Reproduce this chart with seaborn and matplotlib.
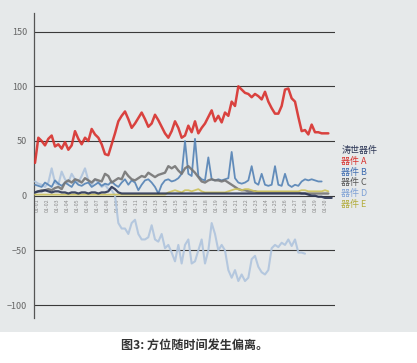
import seaborn as sns
import matplotlib.pyplot as plt
import pandas as pd
import numpy as np

nan = np.nan

# values (one point every ~3 px)
dev_a = [30, 53, 50, 46, 52, 55, 45, 47, 43, 49, 42, 46, 59, 52, 47, 53, 50, 61, 56, 53,
         47, 38, 37, 47, 57, 68, 73, 77, 70, 62, 66, 71, 76, 70, 63, 66, 74, 69, 63, 57,
         53, 59, 68, 62, 53, 55, 64, 58, 68, 57, 62, 66, 72, 78, 68, 73, 67, 76, 73, 86,
         82, 100, 97, 94, 93, 90, 93, 91, 88, 95, 86, 80, 75, 75, 82, 97, 98, 89, 86, 72,
         59, 60, 56, 65, 58, 58, 57, 57, 57, nan]
dev_b = [10, 9, 8, 12, 10, 8, 14, 11, 9, 12, 10, 8, 13, 10, 9, 11, 12, 8, 10, 12,
         9, 11, 10, 13, 10, 8, 12, 15, 10, 14, 12, 5, 10, 14, 15, 12, 8, 2, 10, 14,
         15, 13, 14, 16, 20, 50, 20, 18, 52, 18, 15, 14, 35, 15, 14, 15, 14, 15, 16, 40,
         16, 12, 11, 12, 14, 27, 12, 10, 20, 10, 9, 10, 27, 10, 9, 20, 10, 8, 10, 9,
         13, 15, 14, 15, 14, 13, 13, nan, nan, nan]
dev_c = [3, 4, 5, 5, 6, 5, 7, 8, 6, 12, 14, 12, 15, 14, 12, 16, 14, 12, 15, 14,
         13, 20, 18, 12, 14, 16, 15, 22, 18, 15, 14, 16, 18, 17, 21, 19, 17, 19, 20, 21,
         27, 25, 27, 23, 20, 25, 27, 24, 21, 17, 13, 12, 14, 15, 14, 14, 13, 14, 12, 10,
         8, 6, 5, 5, 4, 4, 4, 3, 3, 3, 3, 3, 3, 3, 3, 3, 3, 3, 3, 3,
         2, 2, 2, 2, 2, 2, 2, 2, 2, nan]
dev_d = [13, 11, 10, 8, 12, 25, 12, 10, 22, 15, 12, 20, 15, 12, 18, 25, 14, 10, 15, 12,
         8, 10, 6, 5, 0, -25, -30, -30, -35, -25, -22, -35, -40, -40, -38, -27, -40, -42, -35, -48,
         -45, -52, -60, -45, -62, -45, -40, -62, -60, -50, -40, -62, -50, -25, -35, -50, -45, -50, -68, -75,
         -68, -78, -72, -78, -75, -58, -55, -65, -70, -72, -68, -48, -45, -47, -43, -45, -40, -46, -40, -52,
         -52, -53, nan, nan, nan, nan, nan, nan, nan, nan]
dev_e = [1, 1, 1, 1, 1, 1, 1, 1, 1, 1, 1, 1, 1, 1, 1, 1, 1, 1, 1, 1,
         1, 1, 1, 1, 1, 1, 1, 1, 1, 1, 1, 1, 1, 1, 1, 1, 1, 1, 1, 1,
         3, 4, 5, 4, 3, 5, 5, 4, 5, 6, 4, 3, 3, 3, 3, 3, 3, 3, 4, 5,
         6, 6, 5, 6, 6, 5, 4, 4, 4, 4, 4, 4, 4, 4, 4, 4, 4, 4, 4, 4,
         5, 5, 4, 4, 4, 4, 4, 5, 4, nan]
dev_ts = [3, 4, 4, 5, 4, 3, 4, 4, 3, 3, 2, 3, 3, 2, 3, 3, 2, 3, 3, 2,
          3, 3, 4, 8, 6, 3, 2, 2, 2, 2, 2, 2, 2, 2, 2, 2, 2, 2, 2, 2,
          2, 2, 2, 2, 2, 2, 2, 2, 2, 2, 2, 2, 2, 2, 2, 2, 2, 2, 2, 2,
          2, 2, 2, 2, 2, 2, 2, 2, 2, 2, 2, 2, 2, 2, 2, 2, 2, 2, 2, 2,
          2, 2, 1, 0, 0, -1, -1, -2, -2, -2]

names = ["涛世器件", "器件 A", "器件 B", "器件 C", "器件 D", "器件 E"]
tick_labels = ["01-%02d" % d for d in range(1, 31)]

colors = {"涛世器件": "#2b3555", "器件 A": "#d8302c", "器件 B": "#5482b5",
          "器件 C": "#757575", "器件 D": "#afc4dd", "器件 E": "#cdc25a"}
text_colors = {"涛世器件": "#2b3555", "器件 A": "#d8302c", "器件 B": "#3f6db0",
               "器件 C": "#555555", "器件 D": "#7fa2d6", "器件 E": "#b3ac3c"}
widths = {"涛世器件": 1.6, "器件 A": 1.8, "器件 B": 1.3, "器件 C": 1.7,
          "器件 D": 1.5, "器件 E": 1.3}

idx = np.arange(len(dev_a))
df = pd.DataFrame({"t": idx, "器件 A": dev_a, "器件 B": dev_b, "器件 C": dev_c,
                   "器件 D": dev_d, "器件 E": dev_e, "涛世器件": dev_ts})

sns.set_style("white")
plt.rcParams['font.family'] = ['Noto Sans CJK SC', 'DejaVu Sans']

fig = plt.figure(figsize=(4.17, 3.63), dpi=100)
fig.patch.set_facecolor("white")

# grey panel behind the chart, white strip for the caption
bg = fig.add_axes([0, 1 - 332 / 363, 1, 332 / 363], zorder=-5)
bg.set_facecolor("#e6e9ea")
bg.set_xticks([])
bg.set_yticks([])
for s in bg.spines.values():
    s.set_visible(False)

ax = fig.add_axes([34 / 417, 1 - 318 / 363, (335 - 34) / 417, (318 - 13) / 363])
ax.set_facecolor("none")

for name in ["器件 D", "器件 B", "器件 C", "器件 E", "涛世器件", "器件 A"]:
    sns.lineplot(data=df, x="t", y=name, ax=ax, color=colors[name],
                 lw=widths[name], alpha=0.9, zorder=3)

ax.set_xlim(-0.3, 90)
ax.set_ylim(-111.8, 167)
ax.set_yticks([-100, -50, 0, 50, 100, 150])
ax.set_yticklabels(["\u2212100", "\u221250", "0", "50", "100", "150"])
ax.yaxis.grid(True, color="#3a3a3a", lw=0.8)
ax.set_axisbelow(True)
ax.tick_params(axis="y", length=0, labelsize=6.5, labelcolor="#666666", pad=5)
ax.set_xlabel("")
ax.set_ylabel("")

# date ticks sit just under the zero line
ax.spines["bottom"].set_position(("data", 0))
ax.spines["bottom"].set_visible(False)
ax.set_xticks(np.arange(30) * 2.98 + 0.7)
ax.set_xticklabels(tick_labels, rotation=90, fontsize=3.8, color="#8a8a8a")
ax.tick_params(axis="x", length=0, pad=2)
for s in ["top", "right"]:
    ax.spines[s].set_visible(False)
ax.spines["left"].set_color("#555555")
ax.spines["left"].set_linewidth(0.9)

handles = [plt.Line2D([], [], color="none") for _ in names]
leg = ax.legend(handles, names, loc="upper left", bbox_to_anchor=(1.0, 0.585),
                frameon=False, fontsize=6.5, handlelength=0, handletextpad=0,
                labelspacing=0.2, borderaxespad=0.3)
for txt, name in zip(leg.get_texts(), names):
    txt.set_color(text_colors[name])

fig.text(195 / 417, 1 - 345 / 363, "图3: 方位随时间发生偏离。", ha="center", va="center",
         fontsize=8.7, fontweight="bold", color="#333333")

fig.savefig("out.png", dpi=100)
